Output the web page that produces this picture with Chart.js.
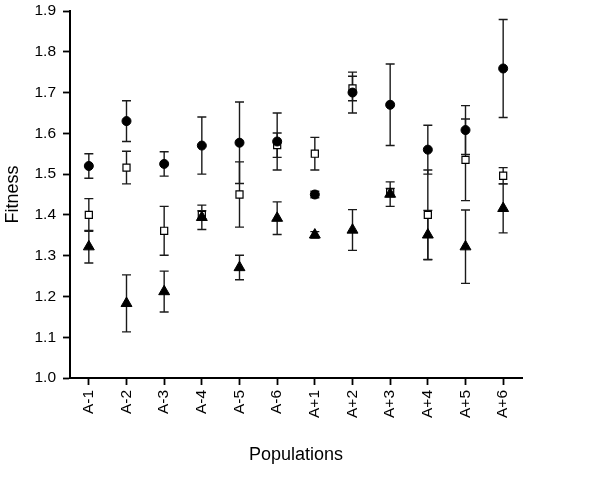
<!DOCTYPE html>
<html>
<head>
<meta charset="utf-8">
<script src="https://cdn.jsdelivr.net/npm/chart.js@4"></script>
<style>
  html, body { margin: 0; padding: 0; background: #fff; }
  #wrap { width: 600px; height: 489px; }
</style>
</head>
<body>
<div id="wrap"><canvas id="c" width="600" height="489"></canvas></div>
<script>
// populations on the x axis
const categories = ["A-1", "A-2", "A-3", "A-4", "A-5", "A-6", "A+1", "A+2", "A+3", "A+4", "A+5", "A+6"];

// filled circles
const circleMean = [1.52, 1.63, 1.525, 1.57, 1.577, 1.58, 1.45, 1.70, 1.67, 1.56, 1.608, 1.759];
const circleErr = [0.03, 0.05, 0.03, 0.07, 0.10, 0.07, 0.008, 0.05, 0.10, 0.06, 0.06, 0.12];

// open squares
const squareMean = [1.40, 1.516, 1.361, 1.40, 1.45, 1.571, 1.55, 1.71, 1.455, 1.40, 1.535, 1.496];
const squareErr = [0.04, 0.04, 0.06, 0.01, 0.08, 0.03, 0.04, 0.03, 0.01, 0.11, 0.10, 0.02];

// filled triangles
const triMean = [1.322, 1.183, 1.212, 1.394, 1.271, 1.392, 1.351, 1.363, 1.451, 1.351, 1.322, 1.416];
const triErr = [0.04, 0.07, 0.05, 0.03, 0.03, 0.04, 0.008, 0.05, 0.03, 0.06, 0.09, 0.06];

const yTicks = [1.0, 1.1, 1.2, 1.3, 1.4, 1.5, 1.6, 1.7, 1.8, 1.9];

const font = "'Liberation Sans', Arial, Helvetica, sans-serif";

// draws the vertical error bars with caps, under the markers
const errorBars = {
  id: "errorBars",
  beforeDatasetsDraw(chart) {
    const ctx = chart.ctx;
    const x = chart.scales.x, y = chart.scales.y;
    ctx.save();
    ctx.strokeStyle = "#1a1a1a";
    ctx.lineWidth = 1.4;
    chart.data.datasets.forEach((ds) => {
      ds.data.forEach((v, i) => {
        const e = ds.err[i];
        const px = x.getPixelForValue(i);
        const top = y.getPixelForValue(v + e);
        const bot = y.getPixelForValue(v - e);
        ctx.beginPath();
        ctx.moveTo(px, top);
        ctx.lineTo(px, bot);
        ctx.moveTo(px - 4.5, top);
        ctx.lineTo(px + 4.5, top);
        ctx.moveTo(px - 4.5, bot);
        ctx.lineTo(px + 4.5, bot);
        ctx.stroke();
      });
    });
    ctx.restore();
  }
};

new Chart(document.getElementById("c"), {
  type: "line",
  data: {
    labels: categories,
    datasets: [
      {
        data: triMean, err: triErr, showLine: false,
        pointStyle: "triangle", pointRadius: 6.3, pointBorderWidth: 1,
        pointBackgroundColor: "#000", pointBorderColor: "#000"
      },
      {
        data: circleMean, err: circleErr, showLine: false,
        pointStyle: "circle", pointRadius: 4.5, pointBorderWidth: 1,
        pointBackgroundColor: "#000", pointBorderColor: "#000"
      },
      {
        data: squareMean, err: squareErr, showLine: false,
        pointStyle: "rect", pointRadius: 5, pointBorderWidth: 1.2,
        pointBackgroundColor: "#fff", pointBorderColor: "#000"
      }
    ]
  },
  options: {
    responsive: false,
    animation: false,
    clip: false,
    layout: { padding: { left: 0, top: 11, right: 78, bottom: 0 } },
    plugins: { legend: { display: false }, tooltip: { enabled: false } },
    scales: {
      x: {
        type: "category",
        offset: true,
        afterFit: (s) => { s.height = 111; },
        grid: { display: true, offset: false, drawOnChartArea: false, tickLength: 7, tickColor: "#000", tickWidth: 1.8 },
        border: { display: true, color: "#000", width: 2 },
        ticks: { color: "#000", font: { family: font, size: 15.5 }, minRotation: 90, maxRotation: 90, padding: 5, autoSkip: false },
        title: { display: true, text: "Populations", color: "#000", font: { family: font, size: 18 }, padding: { top: 0, bottom: 23 } }
      },
      y: {
        min: 1.0,
        max: 1.9,
        afterFit: (s) => { s.width = 70; s.paddingTop = 0; s.paddingBottom = 0; },
        afterBuildTicks: (s) => { s.ticks = yTicks.map((v) => ({ value: v })); },
        grid: { display: true, drawOnChartArea: false, tickLength: 7, tickColor: "#000", tickWidth: 1.8 },
        border: { display: true, color: "#000", width: 2 },
        ticks: { color: "#000", font: { family: font, size: 15.5 }, padding: 7, callback: (v) => Number(v).toFixed(1) },
        title: { display: true, text: "Fitness", color: "#000", font: { family: font, size: 18 }, padding: { top: 2, bottom: 0 } }
      }
    }
  },
  plugins: [errorBars]
});
</script>
</body>
</html>
